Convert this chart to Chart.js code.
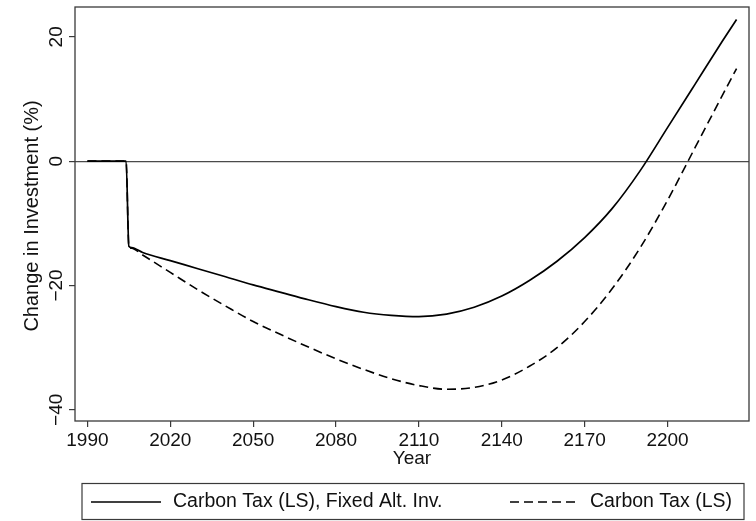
<!DOCTYPE html>
<html>
<head>
<meta charset="utf-8">
<script src="https://cdn.jsdelivr.net/npm/chart.js@4.4.1/dist/chart.umd.min.js"></script>
<style>
  html, body { margin: 0; padding: 0; background: #fff; }
</style>
</head>
<body>
<canvas id="investChart" width="756" height="521"></canvas>
<script>
// Jahre, gemeinsam für beide Reihen
const years = [1990, 2004, 2005, 2006, 2010, 2020, 2030, 2040, 2050, 2060, 2070, 2080, 2090, 2100,
  2110, 2120, 2130, 2140, 2150, 2160, 2170, 2180, 2190, 2200, 2210, 2220, 2225];

// Veränderung der Investitionen in %
const fixedAltInv = [0, 0, -13.7, -13.9, -14.7, -16.0, -17.3, -18.6, -19.9, -21.1, -22.3, -23.4, -24.3, -24.8,
  -25.0, -24.6, -23.5, -21.7, -19.2, -16.1, -12.3, -7.6, -1.6, 5.4, 12.4, 19.4, 22.8];
const carbonTaxLS = [0, 0, -13.7, -14.0, -15.1, -17.9, -20.7, -23.3, -25.8, -27.9, -29.9, -31.8, -33.5, -35.0,
  -36.1, -36.7, -36.4, -35.2, -33.0, -30.0, -25.8, -20.5, -14.0, -6.3, 2.2, 10.7, 14.9];

const seriesLabels = ["Carbon Tax (LS), Fixed Alt. Inv.", "Carbon Tax (LS)"];

// Achsenmarken
const xTicks = [1990, 2020, 2050, 2080, 2110, 2140, 2170, 2200];
const yTicks = [-40, -20, 0, 20];

const FONT = "'Liberation Sans', Arial, Helvetica, sans-serif";
const TEXT = "#111";
const LINIE = "#3a3a3a";

// Minus wie im Druck
function formatZahl(v) {
  return String(v).replace("-", "\u2212");
}

function punkte(werte) {
  return years.map((j, i) => ({ x: j, y: werte[i] }));
}

// Rahmen, gedrehte y-Beschriftung, y-Titel und Legende
const rahmenPlugin = {
  id: "rahmen",
  afterDraw(chart) {
    const { ctx, chartArea: a, scales } = chart;
    ctx.save();

    ctx.strokeStyle = LINIE;
    ctx.lineWidth = 1.3;
    ctx.setLineDash([]);
    ctx.strokeRect(a.left, a.top, a.right - a.left, a.bottom - a.top);

    ctx.fillStyle = TEXT;
    ctx.font = "19px " + FONT;
    ctx.textAlign = "center";
    ctx.textBaseline = "middle";
    scales.y.ticks.forEach((t) => {
      const py = scales.y.getPixelForValue(t.value);
      ctx.save();
      ctx.translate(57, py);
      ctx.rotate(-Math.PI / 2);
      ctx.fillText(formatZahl(t.value), 0, 0);
      ctx.restore();
    });

    // y-Titel
    ctx.save();
    ctx.font = "20px " + FONT;
    ctx.translate(32, 216);
    ctx.rotate(-Math.PI / 2);
    ctx.fillText("Change in Investment (%)", 0, 0);
    ctx.restore();

    // Legende unten mit Rahmen
    ctx.strokeStyle = LINIE;
    ctx.lineWidth = 1.2;
    ctx.strokeRect(82, 483.5, 662, 36);

    ctx.font = "19.5px " + FONT;
    const keyX = [91, 510];
    const textX = [173, 590];
    const ly = 502;
    chart.data.datasets.forEach((ds, i) => {
      ctx.strokeStyle = ds.borderColor;
      ctx.lineWidth = ds.borderWidth;
      ctx.setLineDash(ds.borderDash || []);
      ctx.beginPath();
      ctx.moveTo(keyX[i], ly);
      ctx.lineTo(keyX[i] + 70, ly);
      ctx.stroke();
      ctx.setLineDash([]);
      ctx.textAlign = "left";
      ctx.fillText(ds.label, textX[i], ly);
    });

    ctx.restore();
  },
};

const ctx = document.getElementById("investChart").getContext("2d");

new Chart(ctx, {
  type: "line",
  data: {
    datasets: [
      {
        label: seriesLabels[0],
        data: punkte(fixedAltInv),
        borderColor: "#000",
        borderWidth: 1.7,
        pointRadius: 0,
        cubicInterpolationMode: "monotone",
      },
      {
        label: seriesLabels[1],
        data: punkte(carbonTaxLS),
        borderColor: "#000",
        borderWidth: 1.6,
        borderDash: [9, 5],
        pointRadius: 0,
        cubicInterpolationMode: "monotone",
      },
    ],
  },
  options: {
    responsive: false,
    animation: false,
    devicePixelRatio: 1,
    layout: { padding: { top: 7, right: 7, bottom: 0, left: 0 } },
    plugins: {
      legend: { display: false },
      tooltip: { enabled: false },
    },
    scales: {
      x: {
        type: "linear",
        min: 1985.5,
        max: 2229.5,
        afterBuildTicks: (s) => { s.ticks = xTicks.map((v) => ({ value: v })); },
        afterFit: (s) => { s.height = 100; },
        grid: {
          color: "rgba(0,0,0,0)",
          tickColor: LINIE,
          tickLength: 6,
          lineWidth: 1.2,
        },
        border: { display: false },
        ticks: {
          color: TEXT,
          font: { family: FONT, size: 19 },
          padding: 2,
          maxRotation: 0,
          callback: (v) => String(v),
        },
        title: {
          display: true,
          text: "Year",
          color: TEXT,
          font: { family: FONT, size: 19 },
          padding: { top: 0, bottom: 51 },
        },
      },
      y: {
        min: -41.8,
        max: 24.8,
        afterBuildTicks: (s) => { s.ticks = yTicks.map((v) => ({ value: v })); },
        afterFit: (s) => { s.width = 75; },
        grid: {
          color: (c) => (c.tick && c.tick.value === 0 ? "#4a4a4a" : "rgba(0,0,0,0)"),
          tickColor: LINIE,
          tickLength: 6,
          lineWidth: 1.2,
        },
        border: { display: false },
        ticks: { display: false },
      },
    },
  },
  plugins: [rahmenPlugin],
});
</script>
</body>
</html>
